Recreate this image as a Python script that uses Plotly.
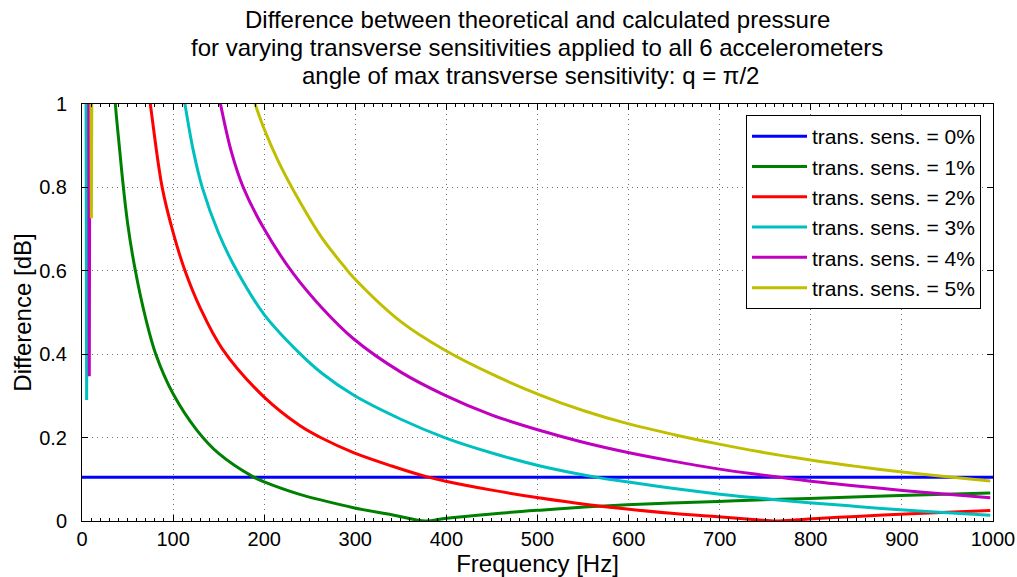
import plotly.graph_objects as go

FONT = "Liberation Sans, Arial, sans-serif"

# ---- data ----
labels = ["trans. sens. = 0%", "trans. sens. = 1%", "trans. sens. = 2%",
          "trans. sens. = 3%", "trans. sens. = 4%", "trans. sens. = 5%"]
colors = ["#0000ff", "#008000", "#ff0000", "#00bfbf", "#bf00bf", "#bfbf00"]

f0 = [0, 1000]
v0 = [0.105, 0.105]

f1 = [33, 36.6, 40, 44, 50, 58.6, 70, 81, 100, 126, 150, 187, 200, 239, 263,
      298, 340, 377, 398, 450, 503, 556, 598, 698, 733, 798, 898, 997]
v1 = [1.13, 1.0, 0.92, 0.83, 0.715, 0.6, 0.485, 0.4, 0.305, 0.218, 0.162,
      0.107, 0.094, 0.064, 0.05, 0.032, 0.015, 0.0, 0.006, 0.017, 0.026, 0.034,
      0.039, 0.047, 0.050, 0.054, 0.061, 0.067]

f2 = [68, 75, 88, 100, 112, 130, 154, 200, 239, 263, 298, 340, 377, 398, 450,
      503, 556, 598, 650, 698, 740, 762, 785, 798, 850, 898, 950, 997]
v2 = [1.12, 1.0, 0.8, 0.692, 0.607, 0.51, 0.413, 0.297, 0.229, 0.199, 0.164,
      0.132, 0.107, 0.096, 0.074, 0.055, 0.039, 0.029, 0.018, 0.010, 0.003, 0.0,
      0.003, 0.005, 0.011, 0.016, 0.021, 0.025]

f3 = [106, 113, 122, 132, 150, 170, 200, 239, 263, 298, 350, 398, 450, 503,
      567, 598, 650, 698, 733, 798, 850, 898, 950, 997]
v3 = [1.1, 1.0, 0.89, 0.8, 0.69, 0.6, 0.495, 0.402, 0.355, 0.302, 0.244, 0.2,
      0.163, 0.132, 0.104, 0.094, 0.078, 0.065, 0.057, 0.044, 0.035, 0.027,
      0.02, 0.014]

f4 = [145, 152, 164, 177, 200, 232, 263, 298, 350, 398, 450, 503, 550, 598,
      650, 698, 744, 798, 850, 898, 950, 997]
v4 = [1.08, 1.0, 0.885, 0.8, 0.7, 0.593, 0.512, 0.437, 0.357, 0.302, 0.254,
      0.217, 0.189, 0.165, 0.143, 0.125, 0.111, 0.096, 0.084, 0.074, 0.064,
      0.056]

f5 = [182, 190, 200, 215, 239, 263, 289, 298, 350, 398, 450, 503, 550, 598,
      650, 698, 744, 798, 850, 898, 950, 997]
v5 = [1.05, 1.0, 0.94, 0.865, 0.766, 0.68, 0.607, 0.584, 0.478, 0.41, 0.352,
      0.302, 0.265, 0.234, 0.207, 0.185, 0.166, 0.147, 0.131, 0.118, 0.106,
      0.096]

# narrow low-frequency dips (3%, 4%, 5%)
spike_f = {3: [4, 5.1, 6], 4: [7, 8, 9], 5: [9, 10.3, 11.5]}
spike_v = {3: [1.5, 0.29, 1.5], 4: [1.5, 0.347, 1.5], 5: [1.5, 0.726, 1.5]}

freqs = [f0, f1, f2, f3, f4, f5]
vals = [v0, v1, v2, v3, v4, v5]

x_ticks = [0, 100, 200, 300, 400, 500, 600, 700, 800, 900, 1000]
y_ticks = [0, 0.2, 0.4, 0.6, 0.8, 1]
y_ticklabels = ["0", "0.2", "0.4", "0.6", "0.8", "1"]

title_lines = ["Difference between theoretical and calculated pressure",
               "for varying transverse sensitivities applied to all 6 accelerometers",
               "angle of max transverse sensitivity: q = π/2"]

# ---- figure ----
fig = go.Figure()
for i, (f, v, lab, c) in enumerate(zip(freqs, vals, labels, colors)):
    fig.add_trace(go.Scatter(x=f, y=v, mode="lines", name=lab,
                             line=dict(color=c, width=3, shape="spline",
                                       smoothing=1.0)))
    if i in spike_f:
        fig.add_trace(go.Scatter(x=spike_f[i], y=spike_v[i], mode="lines",
                                 showlegend=False, hoverinfo="skip",
                                 line=dict(color=c, width=3)))

W, H = 1017, 577
ml, mr, mt, mb = 82, 24, 104, 56
pw = W - ml - mr
ph = H - mt - mb

axis_common = dict(showline=True, linecolor="black", linewidth=1, mirror="ticks",
                   ticks="inside", ticklen=6, tickcolor="black",
                   showgrid=True, gridcolor="rgba(0,0,0,0.55)", gridwidth=1,
                   griddash="1px,4px", zeroline=False,
                   tickfont=dict(family=FONT, size=20, color="black"),
                   title_font=dict(family=FONT, size=24, color="black"))

fig.update_xaxes(range=[0, 1000], tickvals=x_ticks,
                 title_text="Frequency [Hz]", title_standoff=4,
                 minor=dict(ticks="inside", ticklen=3, dtick=10, tickcolor="black",
                            showgrid=False),
                 **axis_common)
fig.update_yaxes(range=[0, 1], tickvals=y_ticks, ticktext=y_ticklabels,
                 title_text="Difference [dB]", title_standoff=0,
                 ticklabelstandoff=10,
                 **axis_common)

title_cx = [537, 537, 530]
for i, t in enumerate(title_lines):
    py = 20 + 28 * i
    fig.add_annotation(text=t, xref="paper", yref="paper",
                       x=(title_cx[i] - ml) / pw,
                       y=(H - mb - py) / ph, xanchor="center", yanchor="middle",
                       showarrow=False,
                       font=dict(family=FONT, size=24, color="black"))

fig.update_layout(
    width=W, height=H,
    margin=dict(l=ml, r=mr, t=mt, b=mb, autoexpand=False),
    paper_bgcolor="white", plot_bgcolor="white",
    font=dict(family=FONT, color="black"),
    showlegend=True,
    legend=dict(x=(981 - ml) / pw, y=(H - mb - 115) / ph,
                xanchor="right", yanchor="top",
                bgcolor="white", bordercolor="black", borderwidth=1,
                font=dict(family=FONT, size=21, color="black"),
                itemwidth=55, tracegroupgap=0),
)

fig.write_html("out.html", config={"displayModeBar": False},
               post_script="document.body.style.margin='0px';")
